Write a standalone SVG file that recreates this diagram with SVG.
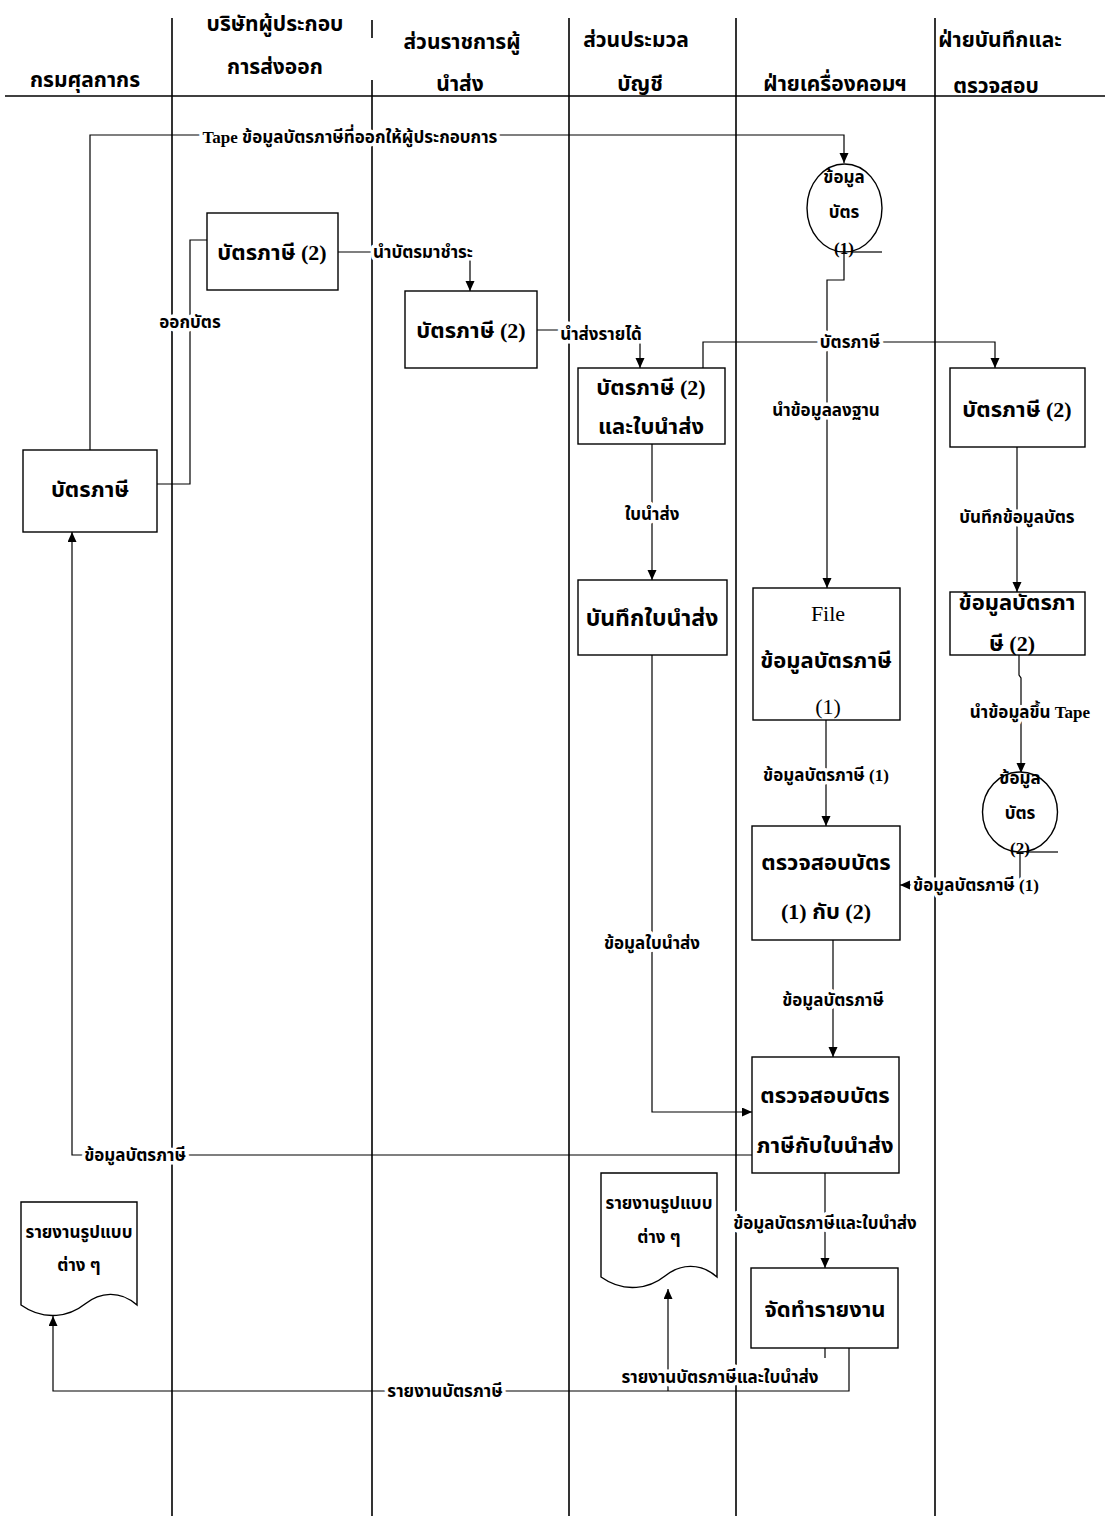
<svg xmlns="http://www.w3.org/2000/svg" width="1105" height="1516" viewBox="0 0 1105 1516">
<style>
text{font-family:"Liberation Serif","Noto Sans Thai","Noto Sans","DejaVu Sans",sans-serif;fill:#000;text-anchor:middle;dominant-baseline:central}
.h{font-size:21px;font-weight:bold}
.t{font-size:22px;font-weight:bold}
.n{font-weight:normal}
.s{font-size:17px;font-weight:bold}
.c{font-size:17px;font-weight:bold}
.l{font-size:17px;font-weight:bold;stroke:#fff;stroke-width:7px;stroke-linejoin:round;paint-order:stroke}
.lane{stroke:#000;stroke-width:1.6;fill:none}
.box{fill:#fff;stroke:#000;stroke-width:1.4}
.conn{fill:none;stroke:#000;stroke-width:1.2}
</style>
<defs>
<marker id="ah" markerUnits="userSpaceOnUse" markerWidth="10" markerHeight="10" refX="10" refY="4.5" orient="auto">
<path d="M0,0 L10,4.5 L0,9 Z" fill="#000"/>
</marker>
</defs>
<rect width="1105" height="1516" fill="#fff"/>
<g id="lanes">
<line class="lane" x1="5" y1="96" x2="1105" y2="96"/>
<line class="lane" x1="172" y1="18" x2="172" y2="1516"/>
<line class="lane" x1="372" y1="20" x2="372" y2="38"/>
<line class="lane" x1="372" y1="80" x2="372" y2="1516"/>
<line class="lane" x1="569" y1="18" x2="569" y2="1516"/>
<line class="lane" x1="736" y1="18" x2="736" y2="1516"/>
<line class="lane" x1="935" y1="18" x2="935" y2="1516"/>
</g>
<g id="headers">
<text class="h" x="85" y="80">กรมศุลกากร</text>
<text class="h" x="275" y="24">บริษัทผู้ประกอบ</text>
<text class="h" x="275" y="67">การส่งออก</text>
<text class="h" x="462" y="42">ส่วนราชการผู้</text>
<text class="h" x="460" y="84">นำส่ง</text>
<text class="h" x="636" y="40">ส่วนประมวล</text>
<text class="h" x="640" y="84">บัญชี</text>
<text class="h" x="835" y="84">ฝ่ายเครื่องคอมฯ</text>
<text class="h" x="1000" y="40">ฝ่ายบันทึกและ</text>
<text class="h" x="996" y="86">ตรวจสอบ</text>
</g>
<g id="connectors">
<path class="conn" d="M90,450 V135 H844 V163" marker-end="url(#ah)"/>
<path class="conn" d="M157,484 H190 V240 H207"/>
<path class="conn" d="M338,252 H470 V291" marker-end="url(#ah)"/>
<path class="conn" d="M537,330 H640 V368" marker-end="url(#ah)"/>
<path class="conn" d="M703,368 V342 H995 V368" marker-end="url(#ah)"/>
<path class="conn" d="M844,252 V280 H827 V588" marker-end="url(#ah)"/>
<path class="conn" d="M652,444 V580" marker-end="url(#ah)"/>
<path class="conn" d="M1017,447 V592" marker-end="url(#ah)"/>
<path class="conn" d="M1019,655 V675 L1021,678 V773" marker-end="url(#ah)"/>
<path class="conn" d="M826,720 V826" marker-end="url(#ah)"/>
<path class="conn" d="M1020,852 V885 H900" marker-end="url(#ah)"/>
<path class="conn" d="M833,940 V1057" marker-end="url(#ah)"/>
<path class="conn" d="M652,655 V1112 H752" marker-end="url(#ah)"/>
<path class="conn" d="M752,1155 H72 V532" marker-end="url(#ah)"/>
<path class="conn" d="M825,1173 V1268" marker-end="url(#ah)"/>
<path class="conn" d="M825,1348 V1358"/>
<path class="conn" d="M849,1348 V1391 H53 V1316" marker-end="url(#ah)"/>
<path class="conn" d="M668,1391 V1289" marker-end="url(#ah)"/>
</g>
<g id="n-tax-card-2-company">
<rect class="box" x="207" y="213" width="131" height="77"/>
<text class="t" x="272" y="252">บัตรภาษี (2)</text>
</g>
<g id="n-tax-card-2-remitter">
<rect class="box" x="405" y="291" width="132" height="77"/>
<text class="t" x="471" y="330">บัตรภาษี (2)</text>
</g>
<g id="n-tax-card-2-slip">
<rect class="box" x="578" y="368" width="147" height="76"/>
<text class="t" x="651" y="387">บัตรภาษี (2)</text>
<text class="t" x="651" y="426">และใบนำส่ง</text>
</g>
<g id="n-tax-card-2-record">
<rect class="box" x="950" y="368" width="135" height="79"/>
<text class="t" x="1017" y="409">บัตรภาษี (2)</text>
</g>
<g id="n-tax-card">
<rect class="box" x="23" y="450" width="134" height="82"/>
<text class="t" x="90" y="489">บัตรภาษี</text>
</g>
<g id="n-record-slip">
<rect class="box" x="578" y="580" width="149" height="75"/>
<text class="t" x="652" y="618" style="font-size:23px">บันทึกใบนำส่ง</text>
</g>
<g id="n-file">
<rect class="box" x="753" y="588" width="147" height="132"/>
<text class="t n" x="828" y="613">File</text>
<text class="t" x="826" y="660">ข้อมูลบัตรภาษี</text>
<text class="t n" x="828" y="706">(1)</text>
</g>
<g id="n-card-data-2">
<rect class="box" x="950" y="592" width="135" height="63"/>
<text class="t" x="1017" y="602">ข้อมูลบัตรภา</text>
<text class="t" x="1012" y="643">ษี (2)</text>
</g>
<g id="n-tape-1">
<ellipse class="box" cx="844.5" cy="208" rx="37.5" ry="44"/>
<line class="conn" x1="852" y1="252" x2="882" y2="252"/>
<text class="c" x="844" y="177">ข้อมูล</text>
<text class="c" x="844" y="212">บัตร</text>
<text class="c" x="844" y="248">(1)</text>
</g>
<g id="n-tape-2">
<ellipse class="box" cx="1020" cy="812" rx="37.5" ry="40"/>
<line class="conn" x1="1026" y1="852" x2="1058" y2="852"/>
<text class="c" x="1020" y="778">ข้อมูล</text>
<text class="c" x="1020" y="813">บัตร</text>
<text class="c" x="1020" y="848">(2)</text>
</g>
<g id="n-check-1-2">
<rect class="box" x="752" y="826" width="148" height="114"/>
<text class="t" x="826" y="862">ตรวจสอบบัตร</text>
<text class="t" x="826" y="911">(1) กับ (2)</text>
</g>
<g id="n-check-card-slip">
<rect class="box" x="752" y="1057" width="147" height="116"/>
<text class="t" x="825" y="1095">ตรวจสอบบัตร</text>
<text class="t" x="825" y="1145">ภาษีกับใบนำส่ง</text>
</g>
<g id="n-make-report">
<rect class="box" x="751" y="1268" width="147" height="80"/>
<text class="t" x="825" y="1309">จัดทำรายงาน</text>
</g>
<g id="n-report-customs">
<path class="box" d="M21,1202 H137 V1305 C120,1290 100,1292 85,1304 C70,1316 45,1322 21,1305 Z"/>
<text class="s" x="79" y="1232">รายงานรูปแบบ</text>
<text class="s" x="79" y="1265">ต่าง ๆ</text>
</g>
<g id="n-report-accounting">
<path class="box" d="M601,1173 H717 V1277 C700,1262 680,1264 665,1276 C650,1288 625,1294 601,1277 Z"/>
<text class="s" x="659" y="1203">รายงานรูปแบบ</text>
<text class="s" x="659" y="1237">ต่าง ๆ</text>
</g>
<g id="labels">
<text class="l" x="350" y="137">Tape ข้อมูลบัตรภาษีที่ออกให้ผู้ประกอบการ</text>
<text class="l" x="423" y="252">นำบัตรมาชำระ</text>
<text class="l" x="190" y="322">ออกบัตร</text>
<text class="l" x="601" y="334">นำส่งรายได้</text>
<text class="l" x="850" y="342">บัตรภาษี</text>
<text class="l" x="826" y="410">นำข้อมูลลงฐาน</text>
<text class="l" x="652" y="514">ใบนำส่ง</text>
<text class="l" x="1017" y="517">บันทึกข้อมูลบัตร</text>
<text class="l" x="1030" y="712">นำข้อมูลขึ้น Tape</text>
<text class="l" x="826" y="775">ข้อมูลบัตรภาษี (1)</text>
<text class="l" x="976" y="885">ข้อมูลบัตรภาษี (1)</text>
<text class="l" x="833" y="1000">ข้อมูลบัตรภาษี</text>
<text class="l" x="652" y="943">ข้อมูลใบนำส่ง</text>
<text class="l" x="135" y="1155">ข้อมูลบัตรภาษี</text>
<text class="l" x="825" y="1223">ข้อมูลบัตรภาษีและใบนำส่ง</text>
<text class="l" x="720" y="1377">รายงานบัตรภาษีและใบนำส่ง</text>
<text class="l" x="445" y="1391">รายงานบัตรภาษี</text>
</g>
</svg>
